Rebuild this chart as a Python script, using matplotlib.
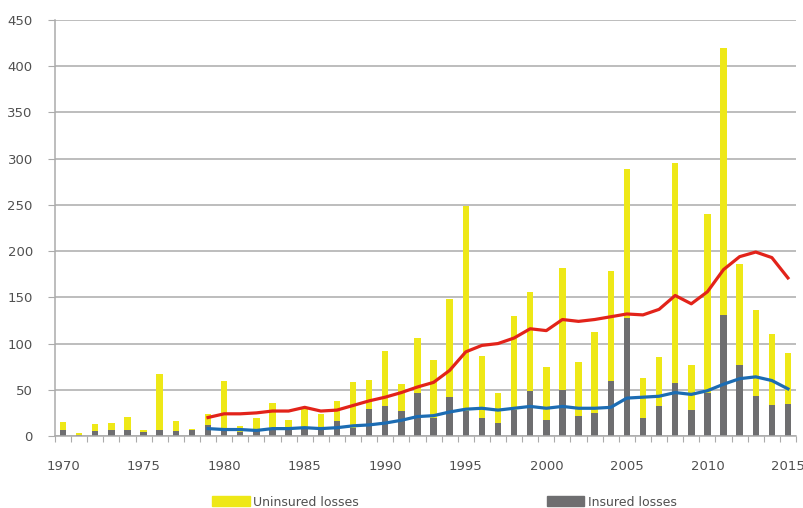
import matplotlib
matplotlib.use("Agg")
import matplotlib.pyplot as plt
from matplotlib.patches import Patch
from matplotlib.ticker import MultipleLocator, FixedLocator

years = list(range(1970, 2016))
insured = [6, 1, 5, 6, 7, 4, 6, 5, 7, 12,
           6, 4, 7, 9, 6, 9, 6, 16, 9, 29,
           32, 27, 47, 19, 42, 27, 20, 14, 28, 49,
           17, 50, 22, 25, 60, 128, 20, 32, 57, 28,
           46, 131, 77, 43, 34, 35]
uninsured = [9, 2, 8, 8, 14, 2, 61, 11, 1, 12,
             53, 7, 13, 27, 11, 22, 18, 22, 49, 32,
             60, 29, 59, 63, 106, 222, 67, 33, 102, 107,
             58, 132, 58, 87, 118, 161, 43, 53, 238, 49,
             194, 289, 109, 93, 76, 55]
avg_years = list(range(1979, 2016))
avg_total = [20, 24, 24, 25, 27, 27, 31, 27, 28, 33,
             38, 42, 47, 53, 58, 71, 91, 98, 100, 106,
             116, 114, 126, 124, 126, 129, 132, 131, 137, 152,
             143, 156, 180, 194, 199, 193, 171]
avg_insured = [8, 7, 7, 6, 8, 8, 9, 8, 9, 11,
               12, 14, 17, 21, 22, 26, 29, 30, 28, 30,
               32, 30, 32, 30, 30, 31, 41, 42, 43, 47,
               45, 49, 56, 62, 64, 60, 51]
tick_years = [1970, 1975, 1980, 1985, 1990, 1995, 2000, 2005, 2010, 2015]

YELLOW = "#EEE817"
GRAY = "#6E6E70"
RED = "#E2231A"
BLUE = "#1C6CB3"
GRID = "#ABABAB"
TXT = "#505050"

fig = plt.figure(figsize=(8.04, 5.08), dpi=100)
ax = fig.add_axes([55/804, 1-436/508, (796-55)/804, (436-20)/508])

w = 0.4
ax.bar(years, insured, width=w, color=GRAY, zorder=2)
ax.bar(years, uninsured, width=w, bottom=insured, color=YELLOW, zorder=2)
ax.plot(avg_years, avg_total, color=RED, lw=2.3, zorder=3, solid_joinstyle="round")
ax.plot(avg_years, avg_insured, color=BLUE, lw=2.3, zorder=3, solid_joinstyle="round")

ax.set_xlim(1969.5, 2015.5)
ax.set_ylim(0, 450)
ax.yaxis.set_major_locator(MultipleLocator(50))
ax.grid(axis="y", color=GRID, lw=1.1, zorder=0)
ax.set_axisbelow(True)

ax.xaxis.set_major_locator(FixedLocator(tick_years))
ax.set_xticklabels([str(y) for y in tick_years])
ax.xaxis.set_minor_locator(FixedLocator([y + 0.5 for y in years[:-1]] + [1969.5, 2015.5]))
ax.tick_params(axis="x", which="major", length=0, pad=17, labelsize=9.5, labelcolor=TXT)
ax.tick_params(axis="x", which="minor", length=4, width=0.8, color=GRID, direction="out")
ax.tick_params(axis="y", length=5, width=0.8, color=GRID, pad=11, labelsize=9.5, labelcolor=TXT)

for s in ("top", "right"):
    ax.spines[s].set_visible(False)
for s in ("left", "bottom"):
    ax.spines[s].set_color(GRID)
    ax.spines[s].set_linewidth(1.1)

fig.legend(handles=[Patch(color=YELLOW, label="Uninsured losses")],
           loc="center left", bbox_to_anchor=(207/804, 6/508), frameon=False,
           handlelength=3.0, handleheight=0.8, handletextpad=0.3,
           fontsize=9, labelcolor=TXT, borderaxespad=0)
fig.legend(handles=[Patch(color=GRAY, label="Insured losses")],
           loc="center left", bbox_to_anchor=(542/804, 6/508), frameon=False,
           handlelength=3.0, handleheight=0.8, handletextpad=0.3,
           fontsize=9, labelcolor=TXT, borderaxespad=0)

fig.savefig("out.png", dpi=100)
